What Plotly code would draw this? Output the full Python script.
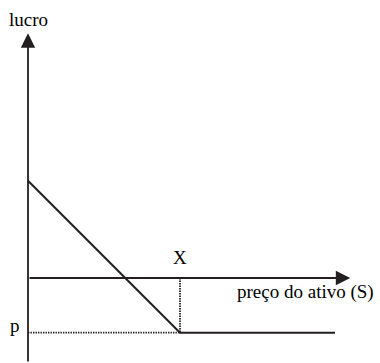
import plotly.graph_objects as go

# Long put: profit as a function of the asset price at expiry
asset_price = [0, 10, 20.2]
profit = [6.4, -3.6, -3.6]
strike = 10
premium = 3.6

# axis extents (in chart units)
axis_x_end = 21.2
axis_y_end = 16.1
axis_y_start = -5.6

ink = "#231f20"
font = dict(family="Liberation Serif", size=19, color="#000000")
dotted = dict(color=ink, width=1.8, dash="1.4px,1.1px")

fig = go.Figure()

# payoff line
fig.add_trace(go.Scatter(
    x=asset_price, y=profit, mode="lines",
    line=dict(color=ink, width=2), hoverinfo="skip", showlegend=False,
))

# dotted guides at the strike and the premium
fig.add_trace(go.Scatter(
    x=[strike, strike], y=[0, -premium], mode="lines",
    line=dotted, hoverinfo="skip", showlegend=False,
))
fig.add_trace(go.Scatter(
    x=[0, strike], y=[-premium, -premium], mode="lines",
    line=dotted, hoverinfo="skip", showlegend=False,
))

annotations = [
    # vertical axis with arrow
    dict(x=0, y=axis_y_end, ax=0, ay=axis_y_start, xref="x", yref="y", axref="x", ayref="y",
         showarrow=True, arrowhead=2, arrowsize=1.6, arrowwidth=1.8, arrowcolor=ink, text=""),
    # horizontal axis with arrow
    dict(x=axis_x_end, y=0, ax=0, ay=0, xref="x", yref="y", axref="x", ayref="y",
         showarrow=True, arrowhead=2, arrowsize=1.6, arrowwidth=1.8, arrowcolor=ink, text=""),
    dict(x=0, y=17.0, xref="x", yref="y", text="lucro", showarrow=False, font=font,
         xanchor="center", yanchor="middle"),
    dict(x=13.6, y=-0.9, xref="x", yref="y", text="preço do ativo (S)", showarrow=False, font=font,
         xanchor="left", yanchor="middle"),
    dict(x=strike, y=1.35, xref="x", yref="y", text="X", showarrow=False, font=font,
         xanchor="center", yanchor="middle"),
    dict(x=-0.88, y=-3.1, xref="x", yref="y", text="p", showarrow=False, font=font,
         xanchor="center", yanchor="middle"),
]

fig.update_layout(
    width=380, height=363,
    margin=dict(l=0, r=0, t=0, b=0),
    paper_bgcolor="white", plot_bgcolor="white",
    xaxis=dict(range=[-28 / 15.2, 352 / 15.2], visible=False, fixedrange=True),
    yaxis=dict(range=[-85 / 15.2, 278 / 15.2], visible=False, fixedrange=True),
    annotations=annotations,
    showlegend=False,
)

fig.write_html("out.html", config={"displayModeBar": False})
